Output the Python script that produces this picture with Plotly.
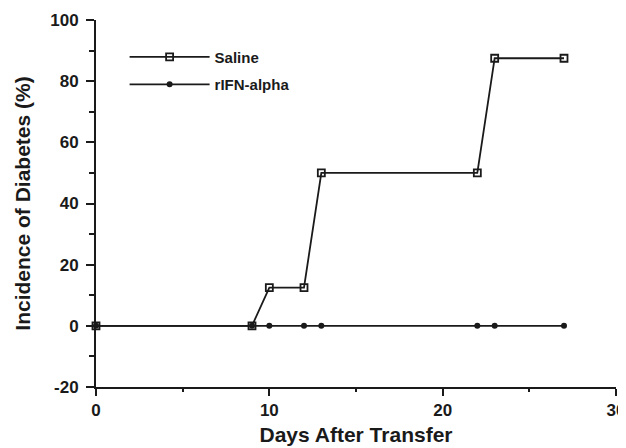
import plotly.graph_objects as go

days_saline = [0, 9, 10, 12, 13, 22, 23, 27]
incidence_saline = [0, 0, 12.5, 12.5, 50, 50, 87.5, 87.5]
days_ifn = [0, 9, 10, 12, 13, 22, 23, 27]
incidence_ifn = [0, 0, 0, 0, 0, 0, 0, 0]
x_ticks = [0, 10, 20, 30]
y_ticks = [-20, 0, 20, 40, 60, 80, 100]
y_tick_labels = ["-20", "0", "20", "40", "60", "80", "100"]

ink = "#1a1a1a"
fam = "Liberation Sans, Arial, sans-serif"
fnt = dict(family=fam, color=ink, size=17, weight="bold")

fig = go.Figure()
fig.add_trace(go.Scatter(
    x=days_saline, y=incidence_saline, name="Saline", mode="lines+markers",
    line=dict(color=ink, width=1.8),
    marker=dict(symbol="square-open", size=7, color=ink, line=dict(width=1.8, color=ink)),
    cliponaxis=False, legendgroup="a"))
fig.add_trace(go.Scatter(
    x=days_ifn, y=incidence_ifn, name="rIFN-alpha", mode="lines+markers",
    line=dict(color=ink, width=1.8),
    marker=dict(symbol="circle", size=6, color=ink),
    cliponaxis=False, legendgroup="b"))

fig.update_layout(
    width=618, height=440,
    margin=dict(l=88, r=10, t=12, b=61),
    paper_bgcolor="white", plot_bgcolor="white",
    font=fnt,
    showlegend=True,
    legend=dict(x=0.055, y=0.944, xanchor="left", yanchor="top",
                bgcolor="rgba(0,0,0,0)", font=dict(size=15, weight="bold", color=ink, family=fam),
                itemwidth=80, traceorder="grouped", tracegroupgap=5),
    xaxis=dict(range=[0, 30], tickvals=x_ticks, showgrid=False, zeroline=False,
               automargin=False,
               showline=True, linecolor=ink, linewidth=2,
               ticks="outside", ticklen=7, tickwidth=2, tickcolor=ink,
               minor=dict(dtick=5, ticks="outside", ticklen=3, tickwidth=2, tickcolor=ink),
               title=dict(text="Days After Transfer", standoff=8,
                          font=dict(size=21, weight="bold", color=ink)),
               tickfont=dict(size=17, weight="bold", color=ink)),
    yaxis=dict(range=[-20, 100], tickvals=y_ticks, ticktext=y_tick_labels,
               showgrid=False, zeroline=False, automargin=False,
               showline=True, linecolor=ink, linewidth=2,
               ticks="outside", ticklen=8, tickwidth=2, tickcolor=ink,
               ticklabelstandoff=4,
               minor=dict(dtick=10, ticks="outside", ticklen=5, tickwidth=2, tickcolor=ink),
               title=dict(text="Incidence of Diabetes (%)", standoff=14,
                          font=dict(size=21, weight="bold", color=ink)),
               tickfont=dict(size=17, weight="bold", color=ink)),
)

fig.write_html("out.html")
